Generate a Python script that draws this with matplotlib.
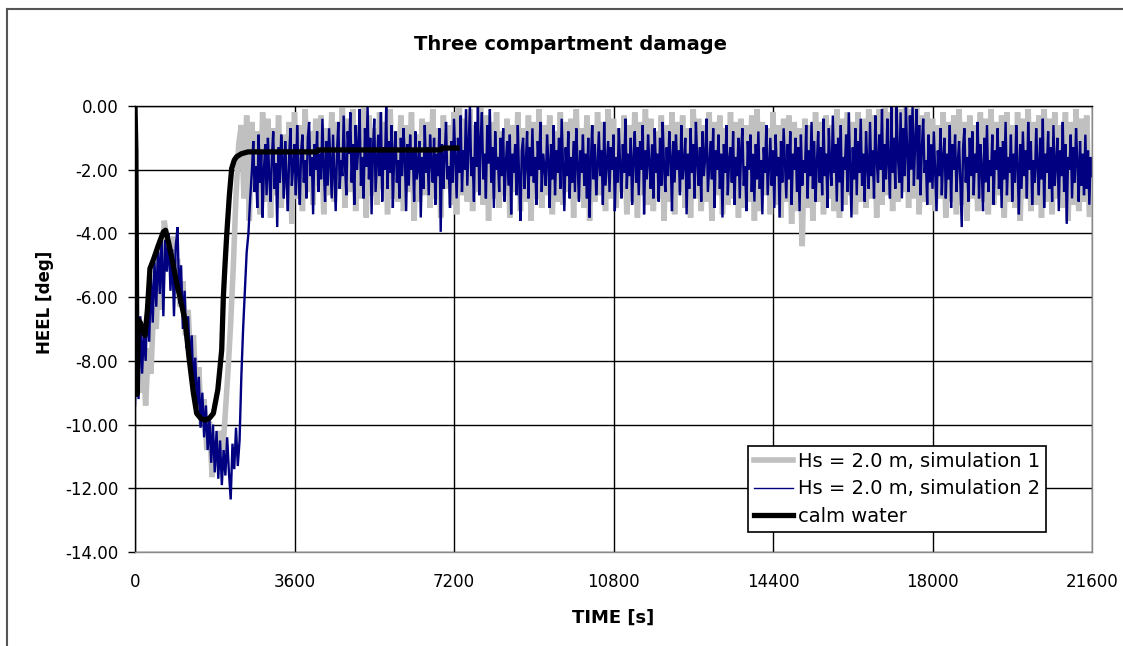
import numpy as np
import matplotlib
matplotlib.use("Agg")
import matplotlib.pyplot as plt
from matplotlib.lines import Line2D
from matplotlib.ticker import FixedLocator, FuncFormatter

plt.rcParams['font.family'] = ['DejaVu Sans']
plt.rcParams['axes.unicode_minus'] = False

# ---------------------------------------------------------------- data
TITLE = "Three compartment damage"
X_LABEL = "TIME [s]"
Y_LABEL = "HEEL [deg]"
SERIES_LABELS = ["Hs = 2.0 m, simulation 1",
                 "Hs = 2.0 m, simulation 2",
                 "calm water"]
X_TICKS = [0, 3600, 7200, 10800, 14400, 18000, 21600]
Y_TICKS = [-14, -12, -10, -8, -6, -4, -2, 0]

# simulation 1: heel angle [deg], sampled every 60 s from t = 0
sim1_step = 60
sim1_heel = [
    -8.0, -7.2, -9.0, -7.8, -9.4, -7.6, -8.4, -6.3, -7.0, -4.6,
    -6.4, -3.6, -4.2, -5.0, -4.1, -5.6, -4.8, -6.3, -5.5, -7.2,
    -6.4, -8.1, -7.2, -9.0, -8.2, -10.0, -9.2, -10.8, -9.9, -11.65,
    -10.5, -11.3, -10.2, -10.9, -9.6, -8.3, -6.8, -5.0, -2.8, -1.2,
    # 2400 s onwards
    -0.6, -2.9, -0.3, -3.6, -0.5, -2.7, -0.8, -3.4, -0.2, -3.0,
    -0.4, -3.5, -0.7, -2.8, -0.3, -3.2, -0.9, -2.6, -0.5, -3.7,
    -0.2, -2.9, -0.6, -3.3, -0.1, -2.7, -0.8, -3.1, -0.4, -2.5,
    -0.3, -3.4, -0.7, -2.8, -0.2, -3.0, -0.5, -2.6, 0.0, -3.2,
    -0.4, -2.7, -0.1, -3.3, -0.6, -2.9, 0.0, -3.5, -0.3, -2.8,
    -0.7, -3.1, -0.2, -2.6, -0.5, -3.4, -0.1, -2.9, -0.8, -3.0,
    -0.3, -3.3, -0.6, -2.7, -0.2, -3.6, -0.9, -3.0, -0.4, -2.8,
    -0.5, -3.2, -0.1, -2.9, -0.7, -3.5, -0.3, -2.6, -0.6, -3.1,
    -0.2, -3.4, 0.0, -2.8, -0.4, -3.0, -0.1, -3.3, -0.6, -2.7,
    0.0, -3.1, -0.3, -3.6, -0.5, -2.9, -0.2, -3.2, -0.8, -2.8,
    -0.4, -3.5, -0.6, -2.7, -0.2, -3.3, -0.7, -3.0, -0.3, -3.6,
    -0.5, -2.9, -0.1, -3.2, -0.6, -2.8, -0.3, -3.4, -0.8, -3.0,
    -0.2, -3.1, -0.5, -2.7, -0.4, -3.5, -0.1, -2.9, -0.7, -3.2,
    -0.3, -3.6, -0.6, -3.0, -0.2, -2.8, -0.5, -3.3, -0.1, -2.9,
    -0.4, -3.2, -0.7, -2.7, -0.3, -3.4, -0.6, -3.0, -0.2, -3.5,
    -0.5, -2.8, -0.1, -3.1, -0.4, -3.3, -0.8, -2.9, -0.3, -3.6,
    -0.6, -3.0, -0.2, -3.4, -0.5, -2.7, -0.3, -3.2, -0.7, -3.5,
    -0.1, -2.9, -0.4, -3.3, -0.6, -3.0, -0.2, -3.6, -0.5, -2.8,
    -0.3, -3.4, -0.7, -3.1, -0.2, -2.9, -0.5, -3.5, -0.4, -3.2,
    -0.6, -3.0, -0.3, -3.6, -0.1, -3.3, -0.5, -2.8, -0.7, -3.4,
    -0.2, -3.1, -0.6, -3.5, -0.4, -3.0, -0.3, -3.7, -0.5, -3.3,
    -0.7, -4.4, -0.4, -3.2, -0.6, -3.6, -0.2, -3.0, -0.5, -3.4,
    -0.3, -2.9, -0.6, -3.3, -0.1, -3.5, -0.4, -3.1, -0.2, -2.8,
    -0.5, -3.4, -0.2, -3.0, -0.4, -3.2, -0.1, -2.9, -0.3, -3.5,
    -0.1, -3.1, 0.0, -2.8, -0.2, -3.3, 0.0, -3.0, -0.1, -2.7,
    0.0, -3.2, -0.1, -2.9, 0.0, -3.4, -0.3, -3.0, -0.2, -3.1,
    -0.4, -3.3, -0.6, -2.9, -0.2, -3.5, -0.5, -3.0, -0.3, -3.4,
    -0.1, -3.1, -0.5, -3.6, -0.3, -2.9, -0.6, -3.3, -0.2, -3.0,
    -0.4, -3.4, -0.1, -3.1, -0.5, -2.8, -0.3, -3.5, -0.2, -3.0,
    -0.6, -3.2, -0.2, -3.6, -0.4, -2.9, -0.1, -3.3, -0.5, -3.1,
    -0.3, -3.5, -0.1, -3.0, -0.4, -3.4, -0.2, -2.9, -0.6, -3.2,
    -0.2, -3.6, -0.5, -3.1, -0.1, -3.3, -0.4, -3.0, -0.3, -3.4,
    -3.4,
]

# simulation 2, first part: heel [deg] every 40 s from t = 0 to 2640 s
sim2_flood_step = 40
sim2_flood_heel = [
    -9.4, -7.0, -9.2, -6.6, -8.4, -7.1, -8.0, -6.2, -7.4, -5.3,
    -6.8, -4.9, -6.3, -4.4, -5.9, -4.1, -6.6, -4.2, -5.2, -4.0,
    -5.8, -4.5, -6.6, -4.4, -3.8, -6.2, -5.0, -7.0, -5.8, -7.6,
    -6.6, -8.2, -7.2, -8.9, -7.9, -9.5, -8.5, -10.1, -9.0, -10.4,
    -9.4, -10.8, -9.8, -11.2, -10.0, -11.5, -10.2, -11.7, -10.5, -11.9,
    -10.8, -11.6, -10.4, -11.5, -12.35, -10.6, -11.4, -10.1, -11.3, -10.5,
    -8.5, -7.0, -5.8, -4.6, -4.0, -2.9, -2.0,
]

# simulation 2, second part: heel [deg] every 30 s from t = 2670 s
sim2_wave_start = 2670
sim2_wave_step = 30
sim2_wave_heel = [
    -1.1, -2.7, -1.9, -3.2, -0.9, -2.4, -1.4, -3.5, -2.0, -1.2,
    -2.8, -1.0, -2.2, -3.0, -1.6, -0.8, -2.6, -1.8, -3.8, -1.3,
    -2.4, -0.9, -1.7, -2.9, -1.1, -2.3, -3.3, -1.5, -0.7, -2.5,
    -1.9, -1.2, -2.8, -0.6, -2.1, -3.1, -1.4, -0.9, -2.4, -1.7,
    -2.9, -1.0, -0.5, -2.2, -1.6, -3.4, -1.2, -2.0, -0.8, -2.7,
    -1.5, -2.3, -0.4, -1.9, -3.0, -1.1, -2.5, -0.7, -1.8, -2.9,
    -0.9, -2.1, -3.3, -1.4, -0.5, -2.6, -1.7, -2.2, -0.3, -1.9,
    -2.8, -0.8, -1.5, -0.2, -2.4, -1.2, -3.1, -0.6, -2.0, -1.3,
    -0.1, -2.5, -1.6, -2.9, -0.7, -1.9, 0.0, -2.3, -1.0, -3.4,
    -1.4, -0.4, -2.7, -1.8, -0.9, -2.2, -0.2, -3.0, -1.3, -2.0,
    0.0, -2.6, -1.1, -2.1, -0.6, -3.2, -1.5, -0.8, -2.4, -1.7,
    -2.9, -1.0, -2.2, -0.7, -1.6, -3.3, -1.2, -2.5, -0.9, -2.0,
    -1.4, -3.0, -0.8, -2.3, -1.9, -1.1, -3.5, -1.6, -2.6, -0.6,
    -2.1, -1.3, -2.8, -0.9, -1.8, -2.4, -1.0, -3.1, -1.5, -2.2,
    -0.7, -3.95, -1.2, -2.6, -1.6, -0.5, -2.3, -1.9, -3.2, -1.1,
    -2.4, -0.4, -1.7, -2.9, -1.0, -2.1, -0.3, -2.7, -1.4, -2.0,
    -0.1, -2.5, -1.2, 0.0, -2.2, -1.6, -3.0, -0.5, -1.9, 0.0,
    -2.8, -1.1, -0.2, -2.3, -1.5, -2.9, -0.6, -1.8, -0.1, -2.4,
    -1.3, -3.2, -0.8, -2.0, -1.6, -2.7, -1.0, -2.2, -0.7, -3.0,
    -1.8, -1.1, -2.5, -0.9, -3.4, -1.5, -2.1, -1.2, -2.8, -0.6,
    -2.3, -3.6, -1.4, -1.0, -2.6, -1.8, -0.8, -2.9, -1.3, -2.2,
    -0.7, -2.4, -1.6, -3.1, -1.1, -2.0, -0.5, -2.7, -1.5, -1.9,
    -2.5, -0.9, -1.7, -3.2, -1.2, -2.3, -0.6, -2.8, -1.4, -2.1,
    -1.0, -2.6, -0.4, -1.9, -3.3, -1.3, -2.2, -0.8, -2.9, -1.6,
    -2.4, -1.1, -2.7, -0.7, -1.8, -3.0, -1.4, -2.1, -0.9, -2.5,
    -1.5, -2.9, -1.0, -3.5, -1.7, -0.6, -2.3, -1.2, -2.8, -1.9,
    -0.8, -2.2, -1.4, -3.1, -0.5, -2.5, -1.8, -1.1, -2.7, -1.3,
    -2.0, -0.9, -3.3, -1.6, -2.4, -0.7, -1.9, -2.9, -1.2, -2.1,
    -0.4, -2.6, -1.5, -2.2, -1.0, -3.1, -1.7, -0.8, -2.4, -1.3,
    -2.8, -1.1, -2.0, -0.6, -3.4, -1.4, -2.3, -0.9, -1.8, -2.6,
    -1.2, -2.9, -0.7, -2.1, -1.5, -3.0, -1.0, -2.5, -0.5, -1.9,
    -2.7, -1.3, -2.2, -0.8, -1.6, -3.3, -1.1, -2.4, -0.9, -2.0,
    -1.4, -2.8, -0.6, -2.3, -1.8, -1.0, -3.4, -1.5, -2.6, -0.7,
    -2.1, -1.2, -2.9, -0.5, -1.7, -2.5, -1.3, -3.0, -0.8, -2.2,
    -1.6, -0.4, -2.7, -1.9, -1.1, -2.3, -0.7, -3.2, -1.4, -2.0,
    -0.9, -2.6, -1.5, -3.5, -1.2, -2.1, -0.6, -2.8, -1.7, -1.3,
    -2.4, -0.8, -3.1, -1.6, -2.2, -1.0, -2.9, -1.4, -0.7, -2.5,
    -1.9, -3.3, -1.1, -2.0, -0.9, -2.7, -1.5, -3.0, -1.2, -2.3,
    -0.8, -2.6, -1.7, -3.4, -1.3, -2.1, -0.6, -2.8, -1.9, -1.0,
    -2.5, -1.4, -3.2, -0.9, -2.2, -1.6, -3.5, -1.1, -2.4, -0.7,
    -1.8, -2.9, -1.2, -2.3, -0.8, -3.1, -1.5, -2.0, -1.0, -2.7,
    -1.3, -3.3, -0.9, -2.5, -1.7, -2.1, -0.6, -2.9, -1.4, -2.2,
    -0.5, -2.6, -1.1, -3.0, -1.8, -0.8, -2.4, -1.3, -2.8, -0.4,
    -2.2, -1.5, -3.2, -0.7, -1.9, -2.5, -0.3, -2.1, -1.2, -3.0,
    -1.0, -2.4, -0.6, -3.3, -1.6, -2.0, -0.9, -2.7, -0.2, -1.8,
    -3.5, -1.3, -2.3, -0.7, -2.8, -1.1, -2.1, -0.4, -2.5, -1.5,
    -3.0, -0.8, -1.9, -2.6, -0.5, -2.2, -1.4, -2.9, -0.3, -1.7,
    -2.4, -0.9, -2.0, -0.1, -2.7, -1.2, -2.3, -0.4, -1.8, -2.9,
    0.0, -2.1, -1.0, -2.6, 0.0, -1.6, -2.4, -0.2, -2.9, -0.7,
    -2.2, 0.0, -1.5, -2.7, -0.3, -2.0, 0.0, -2.5, -1.1, -0.1,
    -2.3, -0.6, -2.8, -1.3, -0.4, -2.1, -1.7, -3.1, -0.9, -2.4,
    -1.2, -2.6, -0.8, -2.0, -3.3, -1.4, -2.2, -0.7, -2.8, -1.6,
    -1.0, -2.9, -1.5, -2.3, -0.6, -3.2, -1.2, -2.0, -0.9, -2.7,
    -1.8, -1.1, -2.5, -3.8, -1.3, -0.7, -2.4, -1.6, -3.0, -1.0,
    -2.2, -0.8, -2.8, -1.5, -2.1, -0.5, -2.9, -1.2, -1.9, -3.3,
    -1.0, -2.4, -0.6, -2.7, -1.7, -2.2, -0.9, -3.1, -1.4, -2.0,
    -0.7, -2.6, -1.3, -3.2, -1.1, -2.3, -0.5, -2.8, -1.6, -2.1,
    -0.9, -3.0, -1.5, -2.4, -0.6, -1.9, -3.4, -1.2, -2.6, -0.8,
    -2.2, -1.4, -2.9, -0.5, -2.0, -1.1, -3.1, -1.7, -2.4, -0.7,
    -1.9, -2.8, -1.0, -2.3, -0.4, -3.2, -1.5, -2.1, -0.8, -2.6,
    -1.3, -3.0, -0.6, -2.5, -1.8, -1.0, -3.3, -1.4, -2.2, -0.5,
    -2.7, -1.2, -3.7, -1.6, -2.0, -0.9, -2.9, -1.3, -2.4, -0.7,
    -1.8, -3.0, -1.1, -2.5, -1.5, -2.8, -0.9, -2.6, -1.4, -3.1,
    -1.6, -2.2,
]

# calm water run: (time [s], heel [deg])
calm_time = [0, 20, 45, 75, 120, 180, 226, 280, 338, 414,
             520, 640, 690, 760, 850, 941, 1030, 1128, 1220, 1317,
             1392, 1480, 1580, 1680, 1768, 1870, 1957, 1994, 2031, 2070,
             2130, 2182, 2240, 2295, 2400, 2550, 4100, 4130, 6900, 6930,
             7270]
calm_heel = [0.0, -1.4, -9.05, -6.7, -6.8, -7.1, -7.2, -6.4, -5.1, -4.83,
             -4.4, -3.95, -3.9, -4.3, -4.9, -5.56, -6.1, -6.72, -7.9, -9.0,
             -9.65, -9.8, -9.86, -9.8, -9.65, -8.9, -7.66, -6.0, -5.0, -4.05,
             -2.8, -1.96, -1.7, -1.59, -1.5, -1.44, -1.44, -1.38, -1.38, -1.32,
             -1.32]

# ---------------------------------------------------------------- figure
W, H = 1123, 646
fig = plt.figure(figsize=(W / 100, H / 100), dpi=100, facecolor="white")

# outer frame of the chart sheet (top and left edges)
frame_kw = dict(transform=fig.transFigure, color="#555555", lw=1.5)
fig.add_artist(Line2D([7 / W, 1.0], [1 - 9 / H, 1 - 9 / H], **frame_kw))
fig.add_artist(Line2D([7 / W, 7 / W], [0.0, 1 - 9 / H], **frame_kw))

ax = fig.add_axes([135 / W, 1 - 552 / H, (1092 - 135) / W, (552 - 106) / H])

t1 = np.arange(len(sim1_heel)) * sim1_step
t2 = np.concatenate([np.arange(len(sim2_flood_heel)) * sim2_flood_step,
                     sim2_wave_start + np.arange(len(sim2_wave_heel)) * sim2_wave_step])
h2 = np.concatenate([sim2_flood_heel, sim2_wave_heel])

ax.plot(t1, sim1_heel, color="#c0c0c0", lw=4.0, label=SERIES_LABELS[0],
        zorder=2, solid_joinstyle="miter")
ax.plot(t2, h2, color="#000080", lw=1.7, label=SERIES_LABELS[1],
        zorder=2.1, solid_joinstyle="miter")
ax.plot(calm_time, calm_heel, color="black", lw=3.8, label=SERIES_LABELS[2],
        zorder=2.2)

ax.set_xlim(X_TICKS[0], X_TICKS[-1])
ax.set_ylim(Y_TICKS[0], Y_TICKS[-1])
ax.xaxis.set_major_locator(FixedLocator(X_TICKS))
ax.yaxis.set_major_locator(FixedLocator(Y_TICKS))
ax.yaxis.set_major_formatter(FuncFormatter(lambda v, p: f"{v:.2f}" if v else "0.00"))
ax.xaxis.set_major_formatter(FuncFormatter(lambda v, p: f"{int(v)}"))

ax.set_axisbelow(True)
ax.grid(True, color="black", lw=1.0)

for side in ("top", "left"):
    ax.spines[side].set_color("black")
    ax.spines[side].set_linewidth(1.0)
for side in ("bottom", "right"):
    ax.spines[side].set_color("#8a8a8a")
    ax.spines[side].set_linewidth(1.0)

ax.tick_params(axis="y", direction="out", length=5, width=1.0, pad=7,
               labelsize=12, colors="black")
ax.tick_params(axis="x", length=0, pad=15, labelsize=12, colors="black")

fig.text(571 / W, 1 - 50 / H, TITLE, ha="center", va="baseline",
         fontsize=14, fontweight="bold")
fig.text(613 / W, 1 - 618 / H, X_LABEL, ha="center", va="center",
         fontsize=13, fontweight="bold")
fig.text(45 / W, 1 - 302 / H, Y_LABEL, ha="center", va="center",
         rotation=90, fontsize=12, fontweight="bold")

leg = ax.legend(loc="lower right", bbox_to_anchor=(1046 / W, 1 - 532 / H),
                bbox_transform=fig.transFigure, fontsize=14, frameon=True,
                fancybox=False, shadow=False, framealpha=1.0,
                edgecolor="black", handlelength=2.0, handletextpad=0.25,
                borderpad=0.3, labelspacing=0.45, borderaxespad=0.0)
leg.get_frame().set_linewidth(1.2)
leg.get_lines()[1].set_linewidth(1.0)
leg.set_zorder(5)

fig.savefig("out.png", dpi=100, facecolor="white")
